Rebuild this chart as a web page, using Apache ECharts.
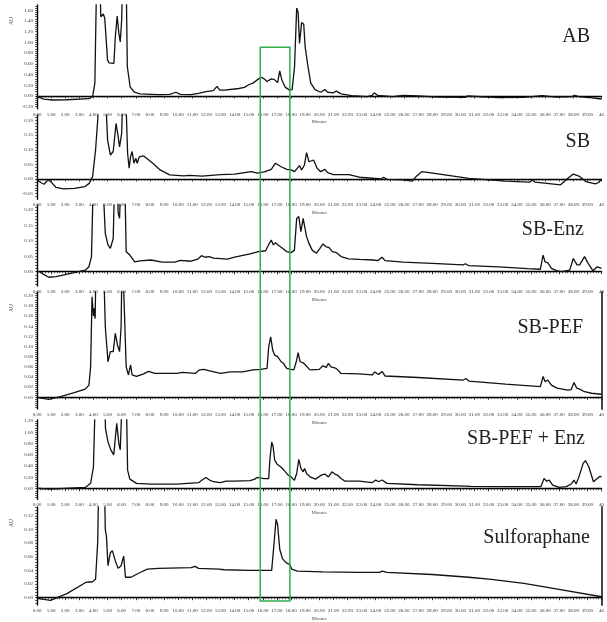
<!DOCTYPE html>
<html>
<head>
<meta charset="utf-8">
<script src="https://cdn.jsdelivr.net/npm/echarts@6/dist/echarts.min.js"></script>
<style>
  html, body { margin: 0; padding: 0; background: #fff; }
  #chart { width: 607px; height: 622px; }
</style>
</head>
<body>
<div id="chart"></div>
<script>
// retention time (min), absorbance (AU)
var abData = [[0,-0.01],[0.5,-0.06],[1.1,-0.075],[2.1,-0.07],[3.7,-0.05],[3.94,-0.01],[4.1,0.24],[4.25,2.6],[4.42,2.6],[4.52,1.48],[4.6,1.51],[4.7,1.53],[4.8,1.45],[5.0,0.67],[5.1,0.62],[5.45,0.61],[5.55,1.1],[5.68,1.49],[5.8,1.17],[5.9,1.01],[6.0,1.42],[6.1,2.6],[6.3,2.6],[6.4,0.55],[6.6,0.17],[6.9,0.07],[7.3,0.04],[8.6,0.025],[9.4,0.03],[9.85,0.07],[10.15,0.03],[10.9,0.025],[11.45,0.05],[11.97,0.08],[12.1,0.075],[12.5,0.1],[12.75,0.18],[12.95,0.11],[13.3,0.11],[14.3,0.14],[14.7,0.16],[15.0,0.21],[15.3,0.24],[15.6,0.30],[15.9,0.35],[16.1,0.32],[16.3,0.27],[16.6,0.32],[16.8,0.31],[17.05,0.25],[17.2,0.47],[17.35,0.30],[17.6,0.16],[17.9,0.11],[18.08,0.12],[18.25,0.55],[18.4,1.64],[18.5,1.57],[18.6,0.98],[18.75,1.37],[18.9,1.34],[19.0,0.92],[19.2,0.55],[19.3,0.52],[19.4,0.24],[19.7,0.12],[20.1,0.07],[20.4,0.12],[20.6,0.07],[21.0,0.06],[21.2,0.09],[21.55,0.04],[22.3,0.006],[23.4,-0.01],[23.75,0.01],[23.9,0.06],[24.15,0.01],[25.2,-0.01],[25.95,0.01],[27.0,0.0],[28.5,-0.02],[30.35,-0.025],[30.5,0.0],[30.6,-0.025],[32.7,-0.03],[34.5,-0.025],[35.8,0.006],[36.8,-0.02],[37.9,-0.01],[38.1,0.01],[38.4,-0.01],[39.2,-0.03],[40,-0.056]];

var sbData = [[0,-0.003],[0.3,-0.013],[0.5,-0.018],[0.78,-0.003],[0.96,-0.008],[1.35,-0.029],[1.87,-0.034],[2.64,-0.032],[3.4,-0.026],[3.7,-0.015],[3.94,0.008],[4.15,0.099],[4.3,0.2],[4.4,0.3],[4.85,0.3],[5.0,0.134],[5.2,0.082],[5.4,0.094],[5.6,0.19],[5.75,0.145],[5.85,0.11],[6.0,0.156],[6.08,0.3],[6.28,0.3],[6.42,0.088],[6.53,0.037],[6.63,0.076],[6.74,0.094],[6.87,0.054],[7.0,0.071],[7.1,0.054],[7.25,0.076],[7.56,0.079],[8.08,0.059],[8.73,0.031],[9.4,0.014],[10.4,0.011],[10.8,0.0125],[11.7,0.010],[13.0,0.015],[14.0,0.017],[15.2,0.025],[15.6,0.02],[16.1,0.024],[16.6,0.033],[16.9,0.054],[17.3,0.042],[17.7,0.033],[18.0,0.031],[18.25,0.025],[18.6,0.046],[18.75,0.031],[18.95,0.048],[19.1,0.09],[19.27,0.059],[19.4,0.054],[19.6,0.065],[19.85,0.037],[20.1,0.025],[20.4,0.033],[20.6,0.022],[21.0,0.015],[22.1,0.015],[22.85,0.006],[24.4,0.0],[24.56,0.006],[24.8,-0.001],[25.96,-0.003],[26.6,-0.007],[26.85,0.008],[27.25,0.025],[27.8,0.022],[30.6,0.002],[33.2,-0.007],[34.9,-0.011],[35.1,-0.003],[35.3,-0.011],[37.1,-0.02],[37.6,0.002],[38.0,0.017],[38.4,0.01],[38.9,-0.009],[39.56,-0.017],[39.8,-0.012],[40,0.0]];

var sbEnzData = [[0,-0.002],[0.18,0.001],[0.44,-0.008],[0.83,-0.018],[1.35,-0.016],[2.64,-0.003],[3.42,0.005],[3.68,0.016],[3.86,0.049],[3.99,0.3],[4.66,0.3],[4.84,0.124],[5.03,0.087],[5.2,0.076],[5.4,0.108],[5.5,0.3],[5.7,0.3],[5.75,0.19],[5.85,0.173],[5.95,0.3],[6.22,0.3],[6.32,0.065],[6.58,0.054],[6.92,0.032],[7.3,0.035],[8.08,0.038],[8.86,0.031],[9.77,0.031],[10.15,0.037],[10.9,0.034],[11.4,0.041],[11.66,0.052],[11.9,0.047],[12.2,0.049],[12.5,0.044],[13.5,0.041],[14.0,0.047],[15.1,0.058],[15.7,0.065],[16.2,0.068],[16.4,0.087],[16.6,0.103],[16.75,0.087],[16.9,0.094],[17.15,0.084],[17.4,0.076],[17.7,0.065],[18.0,0.062],[18.24,0.07],[18.4,0.173],[18.55,0.179],[18.7,0.13],[18.86,0.173],[18.96,0.168],[19.1,0.114],[19.27,0.092],[19.5,0.07],[19.8,0.06],[20.05,0.076],[20.26,0.09],[20.5,0.081],[20.7,0.078],[20.93,0.065],[21.2,0.062],[21.55,0.049],[22.07,0.042],[22.85,0.04],[23.8,0.038],[23.94,0.042],[24.15,0.036],[24.45,0.047],[24.66,0.036],[25.95,0.031],[28.0,0.027],[30.2,0.022],[30.36,0.026],[30.57,0.02],[32.7,0.016],[34.77,0.01],[35.67,0.008],[35.86,0.054],[36.0,0.032],[36.2,0.029],[36.45,0.011],[36.85,0.003],[37.2,0.0],[37.75,0.005],[38.0,0.043],[38.27,0.022],[38.45,0.022],[38.8,0.049],[39.05,0.027],[39.4,0.003],[39.7,0.016],[40,0.011]];

var sbPefData = [[0,0.0],[0.83,-0.004],[1.6,0.001],[2.64,0.009],[3.42,0.016],[3.68,0.024],[3.8,0.06],[3.9,0.198],[4.0,0.16],[4.04,0.175],[4.12,0.155],[4.2,0.3],[4.68,0.3],[4.84,0.139],[5.03,0.07],[5.2,0.09],[5.4,0.09],[5.55,0.126],[5.7,0.103],[5.85,0.09],[5.96,0.139],[6.04,0.3],[6.18,0.3],[6.32,0.06],[6.48,0.044],[6.63,0.064],[6.74,0.044],[7.05,0.041],[7.56,0.046],[7.9,0.051],[8.35,0.047],[9.9,0.047],[10.3,0.049],[11.2,0.047],[11.5,0.054],[11.84,0.055],[12.23,0.052],[13.0,0.047],[13.7,0.05],[14.56,0.05],[15.3,0.054],[15.85,0.055],[16.3,0.057],[16.42,0.1],[16.56,0.119],[16.7,0.093],[16.84,0.083],[17.05,0.08],[17.3,0.07],[17.46,0.067],[17.7,0.057],[18.0,0.055],[18.2,0.054],[18.4,0.073],[18.5,0.088],[18.65,0.07],[18.86,0.068],[19.0,0.064],[19.35,0.054],[20.0,0.055],[20.26,0.062],[20.5,0.059],[20.65,0.067],[20.83,0.06],[21.2,0.057],[21.55,0.047],[22.85,0.046],[23.75,0.044],[23.94,0.05],[24.2,0.045],[24.45,0.051],[24.66,0.042],[27.0,0.039],[30.2,0.034],[30.4,0.037],[30.6,0.032],[33.2,0.026],[35.67,0.021],[35.86,0.041],[36.0,0.031],[36.2,0.034],[36.45,0.024],[36.85,0.018],[37.6,0.014],[37.85,0.015],[38.05,0.029],[38.25,0.018],[38.45,0.016],[38.8,0.011],[39.3,0.008],[40,0.006]];

var sbPefEnzData = [[0,0.012],[0.85,-0.006],[3.44,0.024],[3.8,0.095],[4.0,0.39],[4.15,1.8],[4.8,1.8],[4.85,1.07],[5.03,0.83],[5.23,0.69],[5.44,0.6],[5.55,0.9],[5.65,1.16],[5.8,0.8],[5.9,0.69],[6.06,1.8],[6.32,1.8],[6.42,0.33],[6.58,0.17],[7.05,0.095],[8.08,0.083],[9.9,0.083],[10.93,0.1],[11.45,0.107],[11.7,0.154],[11.97,0.2],[12.23,0.154],[12.5,0.124],[13.0,0.107],[13.4,0.136],[14.0,0.136],[15.08,0.142],[15.4,0.166],[15.6,0.2],[16.1,0.18],[16.42,0.18],[16.5,0.51],[16.63,0.83],[16.73,0.75],[16.84,0.51],[17.0,0.44],[17.3,0.38],[17.46,0.34],[17.6,0.3],[17.8,0.24],[18.0,0.21],[18.24,0.15],[18.4,0.27],[18.55,0.52],[18.7,0.36],[18.86,0.3],[18.96,0.36],[19.1,0.27],[19.35,0.21],[19.74,0.17],[20.13,0.24],[20.4,0.26],[20.65,0.21],[20.9,0.3],[21.1,0.26],[21.3,0.24],[21.55,0.18],[21.8,0.136],[22.85,0.136],[23.75,0.107],[24.0,0.154],[24.2,0.124],[24.45,0.154],[24.8,0.095],[27.0,0.07],[30.36,0.047],[30.5,0.07],[30.75,0.041],[33.2,0.036],[35.7,0.036],[35.93,0.18],[36.1,0.136],[36.3,0.154],[36.54,0.065],[37.0,0.024],[37.5,0.036],[37.85,0.083],[38.05,0.154],[38.2,0.083],[38.4,0.21],[38.7,0.45],[38.86,0.5],[39.1,0.39],[39.43,0.124],[39.7,0.18],[39.9,0.22],[40,0.21]];

var sulforaphaneData = [[0,-0.001],[0.96,-0.004],[2.12,0.006],[3.42,0.022],[3.6,0.023],[3.9,0.023],[4.15,0.027],[4.25,0.027],[4.3,0.081],[4.4,0.2],[4.75,0.2],[4.84,0.1],[4.92,0.09],[5.03,0.047],[5.2,0.066],[5.34,0.069],[5.55,0.054],[5.75,0.043],[5.96,0.047],[6.14,0.061],[6.27,0.03],[6.66,0.03],[7.3,0.037],[7.82,0.042],[8.6,0.043],[10.93,0.044],[11.2,0.046],[11.45,0.043],[12.9,0.042],[13.0,0.044],[13.26,0.041],[15.08,0.04],[16.63,0.04],[16.76,0.071],[16.94,0.115],[17.05,0.107],[17.2,0.071],[17.4,0.057],[17.67,0.051],[17.9,0.049],[18.05,0.042],[18.45,0.039],[20.26,0.038],[22.85,0.037],[24.27,0.037],[24.45,0.039],[24.8,0.037],[28.0,0.034],[30.6,0.03],[32.2,0.027],[34.5,0.021],[37.1,0.012],[40,0.0014]];

var sampleNames = ['AB', 'SB', 'SB-Enz', 'SB-PEF', 'SB-PEF + Enz', 'Sulforaphane'];
var sampleData = [abData, sbData, sbEnzData, sbPefData, sbPefEnzData, sulforaphaneData];

// y tick labels of each panel
var abTicks = [-0.2, 0, 0.2, 0.4, 0.6, 0.8, 1.0, 1.2, 1.4, 1.6];
var sbTicks = [-0.05, 0, 0.05, 0.1, 0.15, 0.2];
var sbEnzTicks = [0, 0.05, 0.1, 0.15, 0.2];
var sbPefTicks = [0, 0.02, 0.04, 0.06, 0.08, 0.1, 0.12, 0.14, 0.16, 0.18, 0.2];
var sbPefEnzTicks = [0, 0.2, 0.4, 0.6, 0.8, 1.0, 1.2];
var sulforaphaneTicks = [0, 0.02, 0.04, 0.06, 0.08, 0.1, 0.12];
var yTicks = [abTicks, sbTicks, sbEnzTicks, sbPefTicks, sbPefEnzTicks, sulforaphaneTicks];

// highlighted window (min), drawn from the AB panel down to the Sulforaphane one
var boxStart = [15.82, 0.91];
var boxEnd = [17.92, -0.005];

// panel layout
var panels = [
  {top: 5,   height: 103.7, min: -0.237, max: 1.698, minor: 0.04,  au: true,  rightLine: false},
  {top: 115, height: 84.3,  min: -0.0695, max: 0.219, minor: 0.01, au: false, rightLine: false},
  {top: 205, height: 81,    min: -0.0464, max: 0.2166, minor: 0.01, au: false, rightLine: false},
  {top: 292, height: 117,   min: -0.023, max: 0.2073, minor: 0.004, au: true,  rightLine: true},
  {top: 420, height: 79.3,  min: -0.188, max: 1.22,  minor: 0.04,  au: false, rightLine: false},
  {top: 507, height: 99.7,  min: -0.0107, max: 0.133, minor: 0.004, au: true,  rightLine: true}
];
var titleRight = [17, 17, 23, 24, 22, 17];
var titleMid = [38, 143, 231, 329, 440, 539];

var serif = 'Liberation Serif';

function stepValues(min, max, step){
  var out = [];
  var i = Math.ceil(min / step - 1e-9);
  for (; i * step <= max + 1e-9; i++) out.push(+(i * step).toFixed(4));
  return out;
}

var chart = echarts.init(document.getElementById('chart'), null, {renderer: 'canvas'});

var grids = [], xAxes = [], yAxes = [], series = [], titles = [], texts = [];
panels.forEach(function(p, i){
  grids.push({left: 37, right: 0, top: p.top, height: p.height});
  xAxes.push({
    gridIndex: i, type: 'value', min: 0, max: 40, interval: 1,
    name: 'Minutes', nameLocation: 'middle', nameGap: 11,
    nameTextStyle: {fontFamily: serif, fontSize: 4.5, color: '#444'},
    axisLine: {lineStyle: {color: '#000', width: 1.4}},
    axisTick: {length: 2.5, lineStyle: {color: '#000', width: 0.8}},
    minorTick: {show: true, splitNumber: 5, length: 1.6, lineStyle: {color: '#000', width: 0.6}},
    axisLabel: {fontFamily: serif, fontSize: 5, color: '#333', margin: 3,
      formatter: function(v){ return v === 40 ? '40' : v.toFixed(2); }},
    splitLine: {show: false}
  });
  yAxes.push({
    gridIndex: i, type: 'value', min: p.min, max: p.max,
    axisLine: {show: true, lineStyle: {color: '#000', width: 1.4}},
    axisTick: {show: true, length: 2, customValues: stepValues(p.min, p.max, p.minor),
      lineStyle: {color: '#000', width: 0.6}},
    axisLabel: {fontFamily: serif, fontSize: 5, color: '#333', margin: 4,
      customValues: yTicks[i],
      formatter: function(v){ return v.toFixed(2); }},
    splitLine: {show: false}
  });
  series.push({
    name: sampleNames[i], type: 'line', xAxisIndex: i, yAxisIndex: i,
    data: sampleData[i], showSymbol: false, symbol: 'none', clip: true,
    lineStyle: {color: '#111', width: 1.3}
  });
  titles.push({
    text: sampleNames[i], right: titleRight[i], top: titleMid[i] - 11, padding: 0,
    textStyle: {fontFamily: serif, fontSize: 20, fontWeight: 'normal', color: '#222'}
  });
  if (p.au) {
    texts.push({
      type: 'text', x: 12, y: p.top + 16, rotation: Math.PI / 2,
      style: {text: 'AU', fontFamily: serif, fontSize: 5.5, fill: '#444', align: 'center', verticalAlign: 'middle'}
    });
  }
});

// plain right-hand frame line seen on two of the panels
panels.forEach(function(p, i){
  if (!p.rightLine) return;
  yAxes.push({
    gridIndex: i, type: 'value', position: 'right', min: p.min, max: p.max,
    axisLine: {show: true, lineStyle: {color: '#444', width: 2}},
    axisTick: {show: false}, axisLabel: {show: false}, splitLine: {show: false}
  });
});

chart.setOption({
  animation: false,
  backgroundColor: '#fff',
  title: titles,
  grid: grids,
  xAxis: xAxes,
  yAxis: yAxes,
  series: series
});

// green box: convert its corners through the axes of the first and last panel
var p1 = chart.convertToPixel({gridIndex: 0}, boxStart);
var p2 = chart.convertToPixel({gridIndex: 5}, boxEnd);
texts.push({
  type: 'rect', z: 100,
  shape: {x: p1[0], y: p1[1], width: p2[0] - p1[0], height: p2[1] - p1[1]},
  style: {fill: 'none', stroke: '#2fae4e', lineWidth: 1.5}
});
chart.setOption({graphic: texts});
</script>
</body>
</html>
